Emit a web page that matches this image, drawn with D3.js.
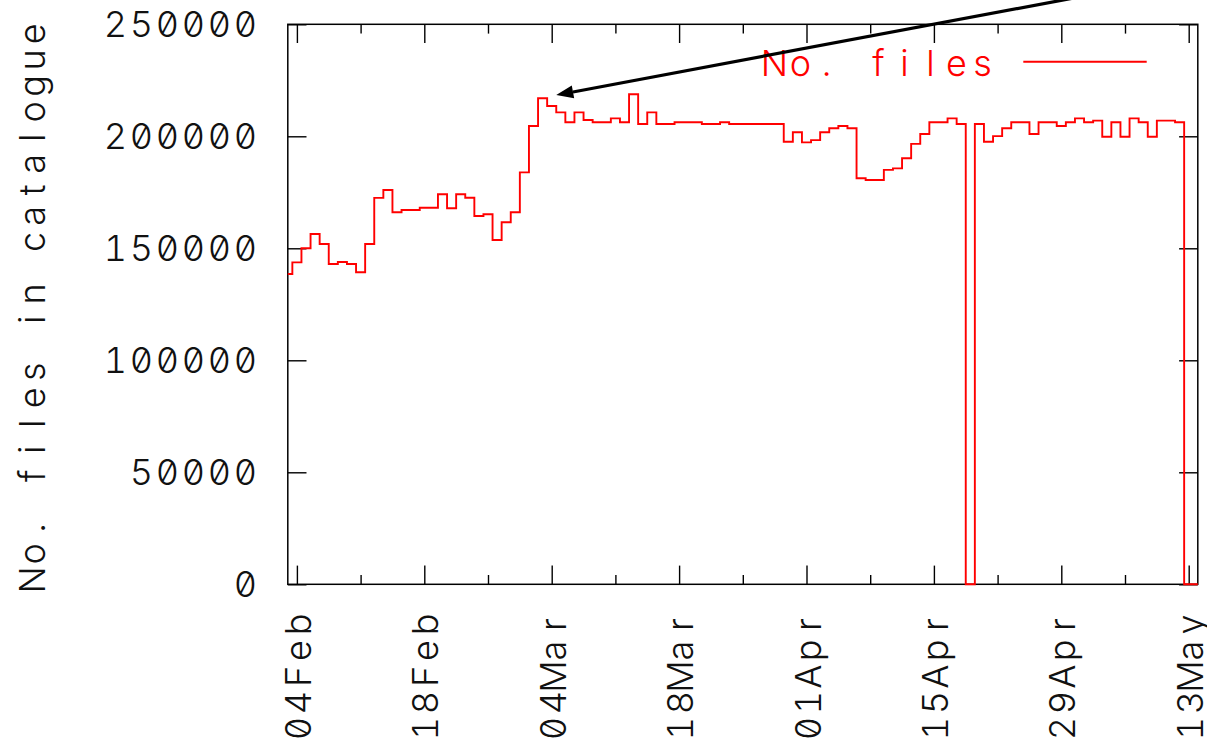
<!DOCTYPE html>
<html>
<head>
<meta charset="utf-8">
<script src="https://cdn.jsdelivr.net/npm/d3@7/dist/d3.min.js"></script>
<style>
  html, body { margin: 0; padding: 0; background: #ffffff; }
  svg { display: block; }
  .glyphs { font-family: Inter, "DejaVu Sans", sans-serif; font-size: 36px; font-weight: 300;
            font-feature-settings: "zero" 1, "tnum" 1; }
</style>
</head>
<body>
<svg id="chart" width="1207" height="740"></svg>
<script>
// Daily catalogue size, one sample per day starting 03 Feb 2005
const sampleStart = "2005-02-03";
const fileCounts = [
  138500, 143700, 150000, 156400, 151900, 143000, 143900, 143000, 139300, 151900,
  172500, 176000, 166100, 167100, 167100, 168100, 168100, 174100, 167900, 174100,
  172600, 164400, 165200, 153700, 161600, 166100, 183900, 204600, 217000, 213500,
  210700, 206300, 210700, 207300, 206300, 206300, 208000, 206300, 218800, 205500,
  210700, 205500, 205500, 206300, 206300, 206300, 205500, 205500, 206300, 205500,
  205500, 205500, 205500, 205500, 205500, 197600, 201800, 197300, 198300, 201800,
  203600, 204600, 203600, 181300, 180500, 180500, 185000, 185700, 190200, 196600,
  201000, 206300, 206300, 208000, 205500, 0, 205500, 197600, 200100, 203600,
  206300, 206300, 201000, 206300, 206300, 204600, 206300, 208000, 206300, 207000,
  199800, 206300, 199800, 208000, 206300, 199800, 207000, 207000, 206300, 0,
  0
];

// Axis ticks
const yTickValues = [0, 50000, 100000, 150000, 200000, 250000];
const majorTickDays = ["2005-02-04", "2005-02-18", "2005-03-04", "2005-03-18",
                       "2005-04-01", "2005-04-15", "2005-04-29", "2005-05-13"];
const minorTickDays = ["2005-02-11", "2005-02-25", "2005-03-11", "2005-03-25",
                       "2005-04-08", "2005-04-22", "2005-05-06"];
const timeRange = ["2005-02-03", "2005-05-14"];

// Labels and annotation
const yTitle = "No. files in catalogue";
const seriesName = "No. files";
const arrowTail = { date: "2005-05-03T02:00", value: 263800 };
const arrowTip  = { date: "2005-03-04T12:00", value: 218400 };

const W = 1207, H = 740;
const plot = { left: 287.8, right: 1197.8, top: 24.3, bottom: 584.3 };
const ADV = 26;      // character pitch of the terminal-style lettering
const GLYPH = 19;    // glyph width

const parseDay = d3.timeParse("%Y-%m-%d");
const parseTime = d3.timeParse("%Y-%m-%dT%H:%M");
const fmtTick = d3.timeFormat("%d%b");

const t0 = parseDay(sampleStart);
const series = fileCounts.map((v, i) => ({ date: d3.timeDay.offset(t0, i), value: v }));

const x = d3.scaleTime()
  .domain(timeRange.map(parseDay))
  .range([plot.left, plot.right]);
const y = d3.scaleLinear()
  .domain([0, 250000])
  .range([plot.bottom, plot.top]);

const svg = d3.select("#chart");
svg.append("rect").attr("width", W).attr("height", H).attr("fill", "#ffffff");

// Monospaced lettering: each character sits centred in its own cell
function monoText(g, str, anchor) {
  const n = str.length;
  const total = (n - 1) * ADV + GLYPH;
  const start = anchor === "end" ? -total : anchor === "middle" ? -total / 2 : 0;
  const xs = d3.range(n).map(i => (start + GLYPH / 2 + i * ADV).toFixed(2));
  return g.append("text")
    .attr("class", "glyphs")
    .attr("x", xs.join(" "))
    .attr("text-anchor", "middle")
    .text(str);
}

const majorDates = majorTickDays.map(parseDay);
const minorDates = minorTickDays.map(parseDay);

// Inward ticks on all four sides
function styleAxis(g) {
  g.select(".domain").remove();
  g.selectAll(".tick line").attr("stroke", "#000").attr("stroke-width", 1.4);
  g.selectAll(".tick text").remove();
}
const majorLen = 18.7, minorLen = 9.3;

svg.append("g").attr("transform", `translate(0,${plot.bottom})`)
  .call(d3.axisBottom(x).tickValues(majorDates).tickSize(-majorLen).tickFormat(""))
  .call(styleAxis);
svg.append("g").attr("transform", `translate(0,${plot.bottom})`)
  .call(d3.axisBottom(x).tickValues(minorDates).tickSize(-minorLen).tickFormat(""))
  .call(styleAxis);
svg.append("g").attr("transform", `translate(0,${plot.top})`)
  .call(d3.axisTop(x).tickValues(majorDates).tickSize(-majorLen).tickFormat(""))
  .call(styleAxis);
svg.append("g").attr("transform", `translate(0,${plot.top})`)
  .call(d3.axisTop(x).tickValues(minorDates).tickSize(-minorLen).tickFormat(""))
  .call(styleAxis);
svg.append("g").attr("transform", `translate(${plot.left},0)`)
  .call(d3.axisLeft(y).tickValues(yTickValues).tickSize(-majorLen).tickFormat(""))
  .call(styleAxis);
svg.append("g").attr("transform", `translate(${plot.right},0)`)
  .call(d3.axisRight(y).tickValues(yTickValues).tickSize(-majorLen).tickFormat(""))
  .call(styleAxis);

// Frame
svg.append("rect")
  .attr("x", plot.left).attr("y", plot.top)
  .attr("width", plot.right - plot.left).attr("height", plot.bottom - plot.top)
  .attr("fill", "none").attr("stroke", "#000").attr("stroke-width", 1.5);

// Series line (centred steps)
const line = d3.line()
  .x(d => x(d.date))
  .y(d => y(d.value))
  .curve(d3.curveStep);
svg.append("path")
  .datum(series)
  .attr("d", line)
  .attr("fill", "none")
  .attr("stroke", "#ff0000")
  .attr("stroke-width", 1.9);

// Y tick labels
yTickValues.forEach(v => {
  const g = svg.append("g").attr("transform", `translate(255,${y(v) + 13})`);
  monoText(g, String(v), "end").attr("fill", "#111");
});

// X tick labels, rotated to read upwards
majorDates.forEach(d => {
  const g = svg.append("g").attr("transform", `translate(${x(d) + 14},615) rotate(-90)`);
  monoText(g, fmtTick(d), "end").attr("fill", "#111");
});

// Y axis title
{
  const g = svg.append("g").attr("transform", `translate(45,${(590 + 23.6) / 2}) rotate(-90)`);
  monoText(g, yTitle, "middle").attr("fill", "#111");
}

// Legend
{
  const g = svg.append("g").attr("transform", `translate(765,75.5)`);
  monoText(g, seriesName, "start").attr("fill", "#ff0000");
  svg.append("line")
    .attr("x1", 1023.3).attr("x2", 1146.7)
    .attr("y1", 61.7).attr("y2", 61.7)
    .attr("stroke", "#ff0000").attr("stroke-width", 1.9);
}

// Annotation arrow
{
  const p0 = [x(parseTime(arrowTail.date)), y(arrowTail.value)];
  const p1 = [x(parseTime(arrowTip.date)), y(arrowTip.value)];
  const ang = Math.atan2(p1[1] - p0[1], p1[0] - p0[0]);
  const headLen = 17, headHalf = 6.5;
  const base = [p1[0] - headLen * Math.cos(ang), p1[1] - headLen * Math.sin(ang)];
  svg.append("line")
    .attr("x1", p0[0]).attr("y1", p0[1])
    .attr("x2", base[0]).attr("y2", base[1])
    .attr("stroke", "#000").attr("stroke-width", 3.2);
  const nx = -Math.sin(ang), ny = Math.cos(ang);
  svg.append("path")
    .attr("d", `M${p1[0]},${p1[1]}L${base[0] + nx * headHalf},${base[1] + ny * headHalf}` +
               `L${base[0] - nx * headHalf},${base[1] - ny * headHalf}Z`)
    .attr("fill", "#000");
}
</script>
</body>
</html>
